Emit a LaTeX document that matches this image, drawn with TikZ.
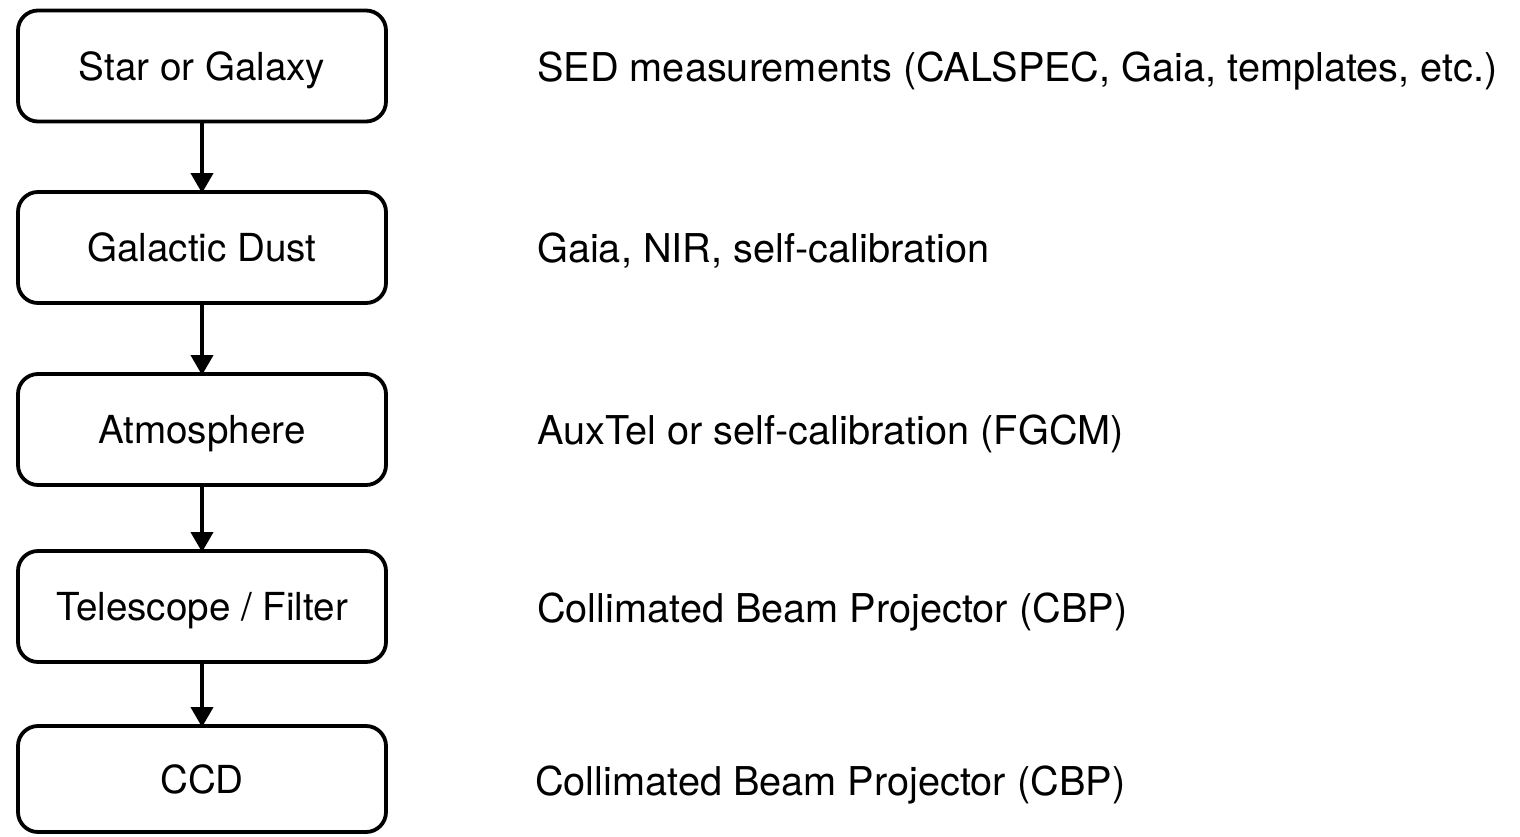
\documentclass[tikz,border=0pt]{standalone}
\usepackage{fontspec}
\setmainfont{TeX Gyre Heros}
\usetikzlibrary{arrows.meta}
\begin{document}
\begin{tikzpicture}[x=1pt,y=-1pt,
  stage/.style={draw=black, line width=3.8pt, rounded corners=20pt,
    minimum width=368pt, minimum height=111pt, inner sep=0pt,
    text height=28pt, text depth=0pt,
    font=\fontsize{38.6}{44}\selectfont},
  method/.style={anchor=base west, inner sep=0pt, font=\fontsize{39.7}{46}\selectfont},
  flow/.style={line width=3.8pt, -{Triangle[width=22pt,length=20pt]}, shorten >=-3pt}
]
\useasboundingbox (0,0) rectangle (1520,836);

% pipeline stages
\node[stage] (star)  at (202,66)  {Star or Galaxy};
\node[stage] (dust)  at (202,247.5) {Galactic Dust};
\node[stage] (atm)   at (202,429.5) {Atmosphere};
\node[stage] (tel)   at (202,606.5) {Telescope / Filter};
\node[stage, minimum height=106pt] (ccd) at (202,779) {CCD};

% arrows between stages
\draw[flow] (star) -- (dust);
\draw[flow] (dust) -- (atm);
\draw[flow] (atm) -- (tel);
\draw[flow] (tel) -- (ccd);

% calibration method for each stage
\node[method] (m1) at (537,81)  {SED measurements (CALSPEC, Gaia, templates, etc.)};
\node[method] (m2) at (537,262) {Gaia, NIR, self-calibration};
\node[method] (m3) at (537,444) {AuxTel or self-calibration (FGCM)};
\node[method] (m4) at (537,622) {Collimated Beam Projector (CBP)};
\node[method] (m5) at (535,795) {Collimated Beam Projector (CBP)};
\end{tikzpicture}
\end{document}
